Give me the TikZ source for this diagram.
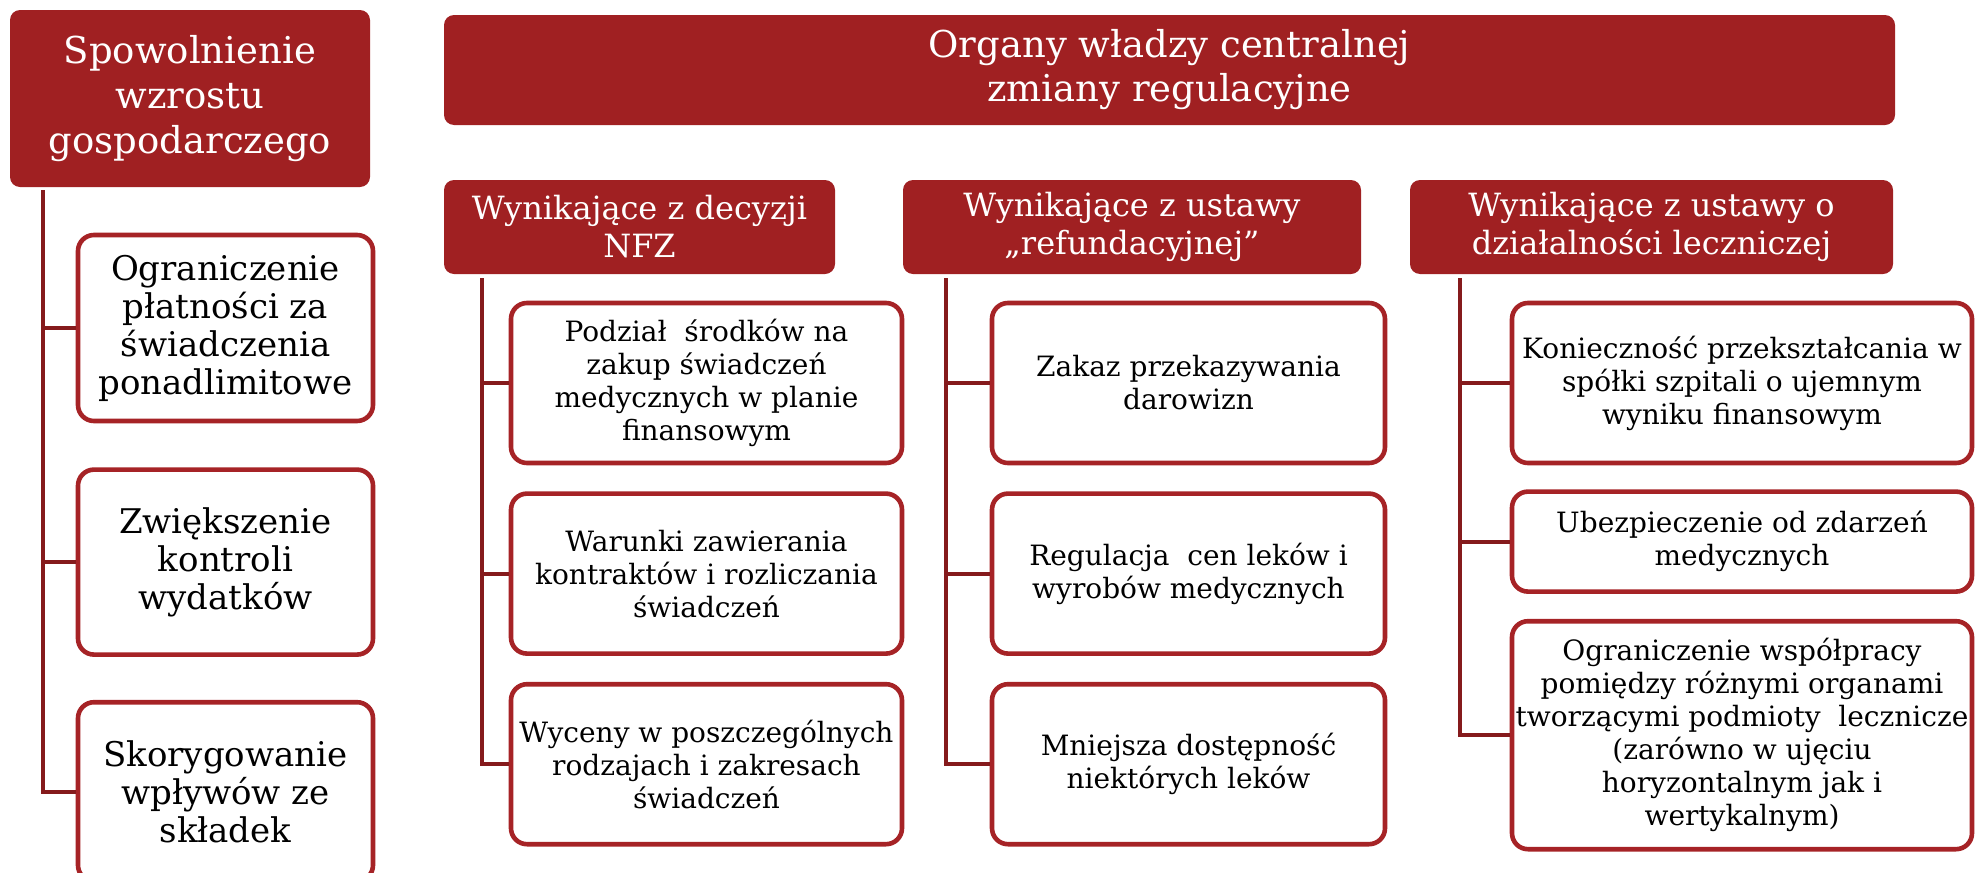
\documentclass[tikz,border=0pt]{standalone}
\usepackage{fontspec}
\setmainfont{DejaVu Serif}
\usetikzlibrary{positioning}

\definecolor{ruby}{RGB}{160,32,34}
\definecolor{rubyline}{RGB}{166,35,38}
\definecolor{rubydark}{RGB}{133,26,28}

\tikzset{
  hdr/.style={fill=ruby, text=white, rounded corners=5pt, align=center, inner sep=2pt},
  item/.style={draw=rubyline, line width=2.3pt, fill=white, rounded corners=8pt, align=center, inner sep=1pt},
  link/.style={draw=rubydark, line width=2pt},
  small/.style={font=\fontsize{14}{16.5}\selectfont},
  big/.style={font=\fontsize{17}{19}\selectfont},
  cat/.style={font=\fontsize{16}{19}\selectfont},
}

\begin{document}
\begin{tikzpicture}[x=0.5pt, y=-0.5pt]
\useasboundingbox (0,0) rectangle (1978,873);

% spowolnienie gospodarcze
\node[hdr, minimum width=180pt, minimum height=88.5pt, font=\fontsize{18.5}{22.5}\selectfont] (econ) at (190,98.5) {Spowolnienie\\wzrostu\\gospodarczego};
\node[item, big, minimum width=147.5pt, minimum height=93pt] (e1) at (225.5,328) {Ograniczenie\\płatności za\\świadczenia\\ponadlimitowe};
\node[item, big, minimum width=147.5pt, minimum height=92.5pt, below=22pt of e1] (e2) {Zwiększenie\\kontroli\\wydatków};
\node[item, big, minimum width=147.5pt, minimum height=89.5pt, below=21.5pt of e2] (e3) {Skorygowanie\\wpływów ze\\składek};

% organy wladzy centralnej
\node[hdr, minimum width=725.5pt, minimum height=55pt, font=\fontsize{18.5}{22}\selectfont] (gov) at (1169.5,70) {Organy władzy centralnej\\zmiany regulacyjne};

\node[hdr, cat, minimum width=195.5pt, minimum height=47pt] (nfz) at (639.5,227) {Wynikające z decyzji\\NFZ};
\node[hdr, cat, minimum width=229pt, minimum height=47pt] (refund) at (1132,227) {Wynikające z ustawy\\„refundacyjnej”};
\node[hdr, cat, minimum width=241.5pt, minimum height=47pt] (medact) at (1651.5,227) {Wynikające z ustawy o\\działalności leczniczej};

% decyzje NFZ
\node[item, small, minimum width=195.5pt, minimum height=80pt] (n1) at (706.5,383) {Podział~ środków na\\zakup świadczeń\\medycznych w planie\\finansowym};
\node[item, small, minimum width=195.5pt, minimum height=80pt, below=13pt of n1] (n2) {Warunki zawierania\\kontraktów i rozliczania\\świadczeń};
\node[item, small, minimum width=195.5pt, minimum height=80pt, below=13pt of n2] (n3) {Wyceny w poszczególnych\\rodzajach i zakresach\\świadczeń};

% ustawa refundacyjna
\node[item, small, minimum width=196.5pt, minimum height=80pt] (r1) at (1188.5,383) {Zakaz przekazywania\\darowizn};
\node[item, small, minimum width=196.5pt, minimum height=80pt, below=13pt of r1] (r2) {Regulacja~ cen leków i\\wyrobów medycznych};
\node[item, small, minimum width=196.5pt, minimum height=80pt, below=13pt of r2] (r3) {Mniejsza dostępność\\niektórych leków};

% ustawa o dzialalnosci leczniczej
\node[item, small, minimum width=230pt, minimum height=80pt] (m1) at (1742,383) {Konieczność przekształcania w\\spółki szpitali o ujemnym\\wyniku finansowym};
\node[item, small, minimum width=230pt, minimum height=50pt, below=12pt of m1] (m2) {Ubezpieczenie od zdarzeń\\medycznych};
\node[item, small, minimum width=230pt, minimum height=114pt, below=12.5pt of m2] (m3) {Ograniczenie współpracy\\pomiędzy różnymi organami\\tworzącymi podmioty~ lecznicze\\(zarówno w ujęciu\\horyzontalnym jak i\\wertykalnym)};

% linie
\coordinate (te) at ([xshift=16.5pt, yshift=-1.5pt]econ.south west);
\coordinate (tn) at ([xshift=19pt, yshift=-2pt]nfz.south west);
\coordinate (tr) at ([xshift=21.5pt, yshift=-2pt]refund.south west);
\coordinate (tm) at ([xshift=25pt, yshift=-2pt]medact.south west);

\draw[link] (te) |- (e3.west);
\draw[link] (tn) |- (n3.west);
\draw[link] (tr) |- (r3.west);
\draw[link] (tm) |- (m3.west);
\foreach \c/\t in {e1/te, e2/te, n1/tn, n2/tn, r1/tr, r2/tr, m1/tm, m2/tm}
  \draw[link] (\c.west) -- (\c.west -| \t);
\end{tikzpicture}
\end{document}
